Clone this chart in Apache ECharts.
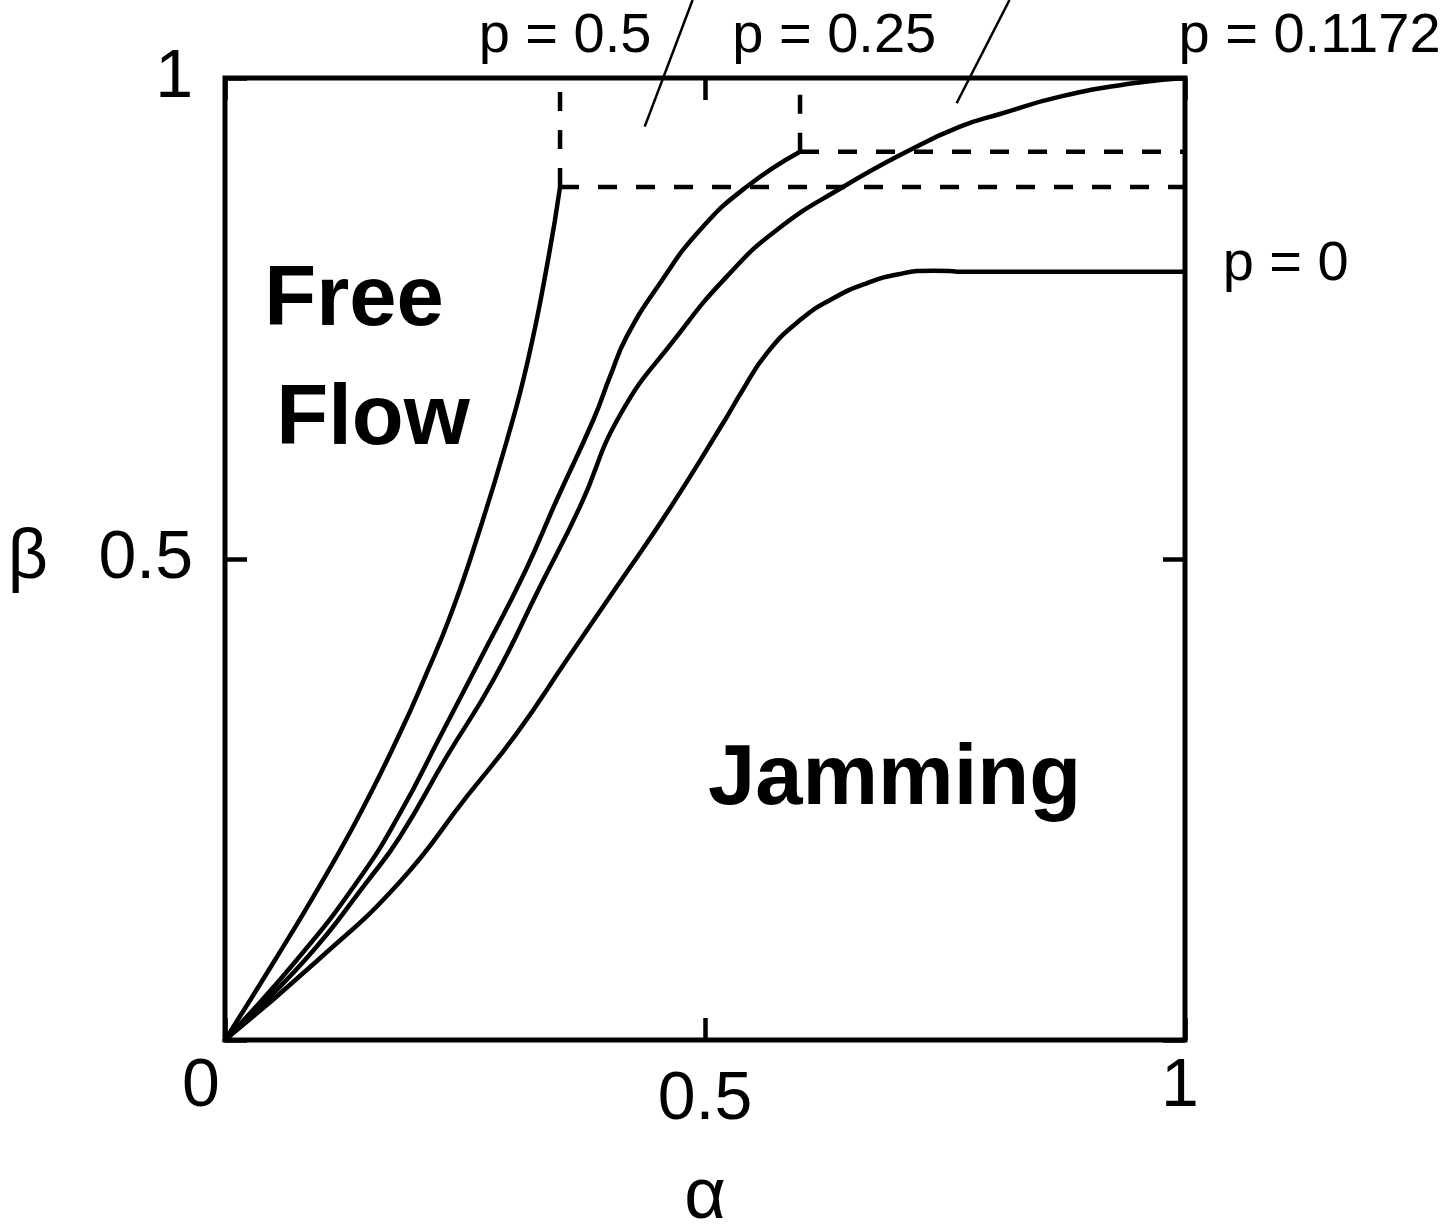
<!DOCTYPE html>
<html>
<head>
<meta charset="utf-8">
<script src="https://cdn.jsdelivr.net/npm/echarts@6/dist/echarts.min.js"></script>
<style>html,body{margin:0;padding:0;background:#fff}#c{width:1454px;height:1224px}</style>
</head>
<body>
<div id="c"></div>
<script>
// ---- data (alpha, beta) ----
const curveP050 = [[0,0],[0.0521,0.0832],[0.1021,0.1663],[0.1427,0.2391],[0.1823,0.3191],[0.2083,0.3773],[0.2354,0.4428],[0.2646,0.5281],[0.2938,0.6237],[0.3156,0.7069],[0.3365,0.8108],[0.3490,0.8867]];
const curveP025 = [[0,0],[0.0747,0.0832],[0.1389,0.1663],[0.1823,0.2357],[0.2240,0.3153],[0.2691,0.4020],[0.3125,0.4868],[0.3455,0.5613],[0.3836,0.6445],[0.4010,0.6895],[0.4184,0.7311],[0.4531,0.7866],[0.4948,0.8420],[0.5434,0.8870],[0.5990,0.9234]];
const curveP01172 = [[0,0],[0.0833,0.0832],[0.1493,0.1663],[0.1823,0.2113],[0.2309,0.2945],[0.2795,0.3742],[0.3281,0.4712],[0.3698,0.5544],[0.4115,0.6497],[0.4705,0.7311],[0.5226,0.7935],[0.5747,0.8420],[0.6441,0.8870],[0.7135,0.9252],[0.7656,0.9494],[0.8073,0.9626],[0.8698,0.9806],[0.9458,0.9945],[1,1]];
const curveP000 = [[0,0],[0.0969,0.0832],[0.1823,0.1646],[0.2518,0.2529],[0.3039,0.3188],[0.3559,0.3950],[0.4080,0.4712],[0.4601,0.5475],[0.5208,0.6445],[0.5382,0.6739],[0.5643,0.7138],[0.5990,0.7484],[0.6336,0.7710],[0.6684,0.7866],[0.7031,0.7963],[0.7378,0.7997],[0.7552,0.7994],[0.7625,0.7987],[1,0.7987]];

const dashP050V = [[0.349,0.8867],[0.349,1]];
const dashP050H = [[0.349,0.8867],[1,0.8867]];
const dashP025V = [[0.599,0.9234],[0.599,1]];
const dashP025H = [[0.599,0.9234],[1,0.9234]];

const leaderA = [[0.4871,1.0811],[0.4372,0.9494]];
const leaderB = [[0.8172,1.0811],[0.7621,0.9737]];

const curveLabels = ['p = 0.5','p = 0.25','p = 0.1172','p = 0'];
const curveLabelPos = [[0.3542,1.0426],[0.6346,1.0426],[1.1297,1.0426],[1.1049,0.8056]];
const regionLabels = ['Free','Flow','Jamming'];
const regionLabelPos = [[0.1344,0.7677],[0.1542,0.6435],[0.6974,0.2692]];

const xTicks = [0,0.5,1];
const xTickLabels = ['0','0.5','1'];
const yTicks = [0,0.5,1];
const yTickLabels = ['','0.5','1'];
const xName = 'α';
const yName = 'β';

// ---- chart ----
const FONT = '"Liberation Sans", Arial, Helvetica, sans-serif';
const chart = echarts.init(document.getElementById('c'));

function solid(data){ return {type:'line', data, symbol:'none', showSymbol:false, smooth:0.5, silent:true, z:3, lineStyle:{color:'#000', width:4.5, cap:'round', join:'round'}}; }
function dashed(data){ return {type:'line', data, symbol:'none', showSymbol:false, silent:true, z:3, lineStyle:{color:'#000', width:4.5, type:[19,19], cap:'butt'}}; }
function leader(data){ return {type:'line', data, symbol:'none', showSymbol:false, silent:true, clip:false, z:3, lineStyle:{color:'#000', width:2.5}}; }

const tickStyle = {show:true, inside:true, length:22, lineStyle:{color:'#000', width:4.5}};
const noLine = {show:false, onZero:false};
const xRichKeys = ['lo','mid','hi'];

chart.setOption({
  animation:false,
  backgroundColor:'#fff',
  grid:{left:225, right:269, top:78, bottom:184, show:true, borderColor:'#000', borderWidth:5, backgroundColor:'transparent', containLabel:false, outerBoundsMode:'none'},
  xAxis:[
    {type:'value', min:0, max:1, interval:0.5, position:'bottom',
     axisLine:noLine, splitLine:{show:false}, axisTick:tickStyle,
     axisLabel:{show:true, margin:13, color:'#000', fontSize:68, fontFamily:FONT,
       formatter:(v)=>{const k=xTicks.indexOf(v); return k<0?'':'{'+xRichKeys[k]+'|'+xTickLabels[k]+'}';},
       rich:{
         lo:{fontSize:68, fontFamily:FONT, color:'#000', padding:[0,48,0,0]},
         mid:{fontSize:68, fontFamily:FONT, color:'#000', padding:[13,0,0,0]},
         hi:{fontSize:68, fontFamily:FONT, color:'#000', padding:[0,10,0,0]}
       }},
     name:xName, nameLocation:'middle', nameGap:122,
     nameTextStyle:{fontSize:72, fontFamily:FONT, color:'#000'}},
    {type:'value', min:0, max:1, interval:0.5, position:'top',
     axisLine:noLine, splitLine:{show:false}, axisTick:tickStyle, axisLabel:{show:false}}
  ],
  yAxis:[
    {type:'value', min:0, max:1, interval:0.5, position:'left',
     axisLine:noLine, splitLine:{show:false}, axisTick:tickStyle,
     axisLabel:{show:true, margin:32, color:'#000', fontSize:68, fontFamily:FONT,
       formatter:(v)=>{const k=yTicks.indexOf(v); return k<0?'':yTickLabels[k];}},
     name:yName, nameLocation:'middle', nameRotate:0, nameGap:177,
     nameTextStyle:{fontSize:70, fontFamily:FONT, color:'#000'}},
    {type:'value', min:0, max:1, interval:0.5, position:'right',
     axisLine:noLine, splitLine:{show:false}, axisTick:tickStyle, axisLabel:{show:false}}
  ],
  series:[
    solid(curveP050), solid(curveP025), solid(curveP01172), solid(curveP000),
    dashed(dashP050V), dashed(dashP050H), dashed(dashP025V), dashed(dashP025H),
    leader(leaderA), leader(leaderB),
    {type:'scatter', silent:true, clip:false, symbolSize:0, z:5, itemStyle:{opacity:1},
     data:curveLabels.map((n,i)=>({name:n, value:curveLabelPos[i]})),
     label:{show:true, position:'inside', formatter:'{b}', color:'#000', opacity:1, fontSize:56, fontFamily:FONT}},
    {type:'scatter', silent:true, clip:false, symbolSize:0, z:5, itemStyle:{opacity:1},
     data:regionLabels.map((n,i)=>({name:n, value:regionLabelPos[i]})),
     label:{show:true, position:'inside', formatter:'{b}', color:'#000', opacity:1, fontSize:85, fontWeight:'bold', fontFamily:FONT}}
  ]
});
</script>
</body>
</html>
